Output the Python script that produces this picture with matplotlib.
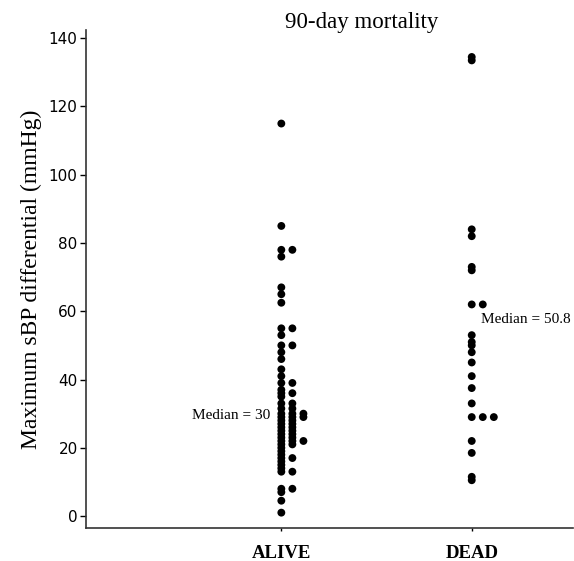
import matplotlib
matplotlib.use("Agg")
import matplotlib.pyplot as plt
from collections import Counter

categories = ["ALIVE", "DEAD"]
alive_values = [115, 85, 78, 78, 76, 67, 65, 62.5,
                55, 55, 53, 50, 50, 48, 46, 43, 41, 39, 39, 37, 36, 36, 35,
                33, 33, 31.5, 31.5, 30, 30, 30, 29, 29, 29, 28, 28, 27, 27,
                26, 26, 25, 25, 24, 24, 23, 23, 22, 22, 22, 21, 21, 20, 19,
                18, 17, 17, 16, 15, 14, 13, 13, 8, 8, 7, 4.5, 1]
dead_values = [134.5, 133.5, 84, 82, 73, 72, 62, 62, 53, 51, 50, 48, 45,
               41, 37.5, 33, 29, 29, 29, 22, 18.5, 11.5, 10.5]
medians = [30, 50.8]
median_labels = ["Median = 30", "Median = 50.8"]
yticks = [0, 20, 40, 60, 80, 100, 120, 140]

fig = plt.figure(figsize=(5.74, 5.61), dpi=100)
ax = fig.add_axes([0.1498, 0.0588, 0.8485, 0.8877])

step = 0.058
for i, vals in enumerate([alive_values, dead_values]):
    seen = Counter()
    xs, ys = [], []
    for v in vals:
        xs.append(i + 1 + seen[v] * step)
        ys.append(v)
        seen[v] += 1
    ax.scatter(xs, ys, s=32, color="black", edgecolors="none", zorder=3)

ax.set_xlim(-0.026, 2.532)
ax.set_ylim(-3.5, 142.4)
ax.set_xticks([1, 2])
ax.set_xticklabels(categories, fontfamily="Liberation Serif", fontweight="bold", fontsize=13.5)
ax.set_yticks(yticks)
ax.set_yticklabels([str(t) for t in yticks], fontfamily="DejaVu Sans", fontsize=11)
ax.tick_params(axis="y", length=4, width=1, pad=2)
ax.tick_params(axis="x", length=2, width=1, pad=10)
for s in ["top", "right"]:
    ax.spines[s].set_visible(False)
ax.spines["left"].set_linewidth(1.2)
ax.spines["bottom"].set_linewidth(1.2)
ax.spines["left"].set_color("#333333")
ax.spines["bottom"].set_color("#333333")

ax.set_ylabel("Maximum sBP differential (mmHg)", fontfamily="Liberation Serif", fontsize=17, labelpad=5)
ax.text(1 - 0.06, medians[0] - 0.5, median_labels[0], ha="right", va="center",
        fontfamily="Liberation Serif", fontsize=11)
ax.text(2 + 0.05, medians[1] + 6.8, median_labels[1], ha="left", va="center",
        fontfamily="Liberation Serif", fontsize=11)
fig.text(0.63, 0.96, "90-day mortality", ha="center", va="center",
         fontfamily="Liberation Serif", fontsize=16.5)

fig.savefig("out.png", dpi=100)
